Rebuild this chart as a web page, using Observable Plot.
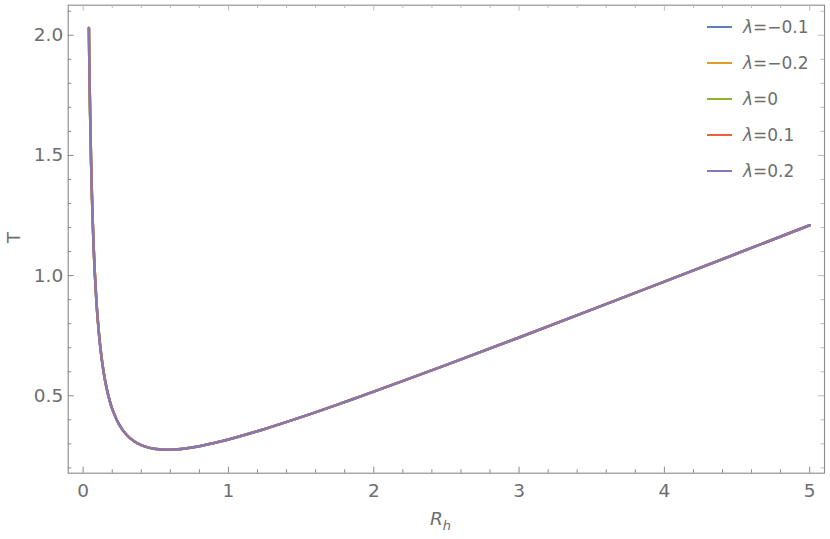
<!DOCTYPE html>
<html>
<head>
<meta charset="utf-8">
<script src="https://cdn.jsdelivr.net/npm/d3@7"></script>
<script src="https://cdn.jsdelivr.net/npm/@observablehq/plot@0.6"></script>
<style>
  html, body { margin: 0; padding: 0; background: #fff; }
  #wrap { position: relative; width: 830px; height: 539px; font-family: "DejaVu Sans", sans-serif; }
  #legend { position: absolute; left: 707px; top: 9px; font-size: 17px; color: #6e6e6e; }
  .item { display: flex; align-items: center; height: 36px; }
  .sw { width: 25px; height: 0; border-top: 2.6px solid; margin-right: 11px; }
  .item i { margin-right: 0px; }
  #ylab { position: absolute; left: 3px; top: 227px; font-size: 18.5px; color: #6e6e6e; transform: rotate(-90deg); transform-origin: center; width: 20px; text-align: center; }
  #xlab { position: absolute; left: 430px; top: 508px; font-size: 18.5px; color: #6e6e6e; font-style: italic; }
  #xlab sub { font-size: 13px; }
</style>
</head>
<body>
<div id="wrap">
  <div id="chart"></div>
  <div id="legend"></div>
  <div id="ylab">T</div>
  <div id="xlab">R<sub>h</sub></div>
</div>
<script>
// Horizon radius values
const rh = [0.0395, 0.042, 0.045, 0.05, 0.055, 0.06, 0.065, 0.07, 0.075, 0.08, 0.09, 0.1, 0.12, 0.14, 0.16, 0.18, 0.2, 0.25, 0.3, 0.35, 0.4, 0.45, 0.5, 0.55, 0.6, 0.65, 0.7, 0.8, 0.9, 1.0, 1.25, 1.5, 1.75, 2, 2.5, 3, 3.5, 4, 4.5, 5];
// Temperature values for each lambda (curves overlap in the chart)
const T_m01 = [2.03, 1.905, 1.779, 1.6035, 1.460, 1.3406, 1.2398, 1.1535, 1.0789, 1.0138, 0.9057, 0.8196, 0.6918, 0.6018, 0.5356, 0.4851, 0.4456, 0.3780, 0.3369, 0.3109, 0.2944, 0.2843, 0.2785, 0.2760, 0.2759, 0.2776, 0.2808, 0.2905, 0.3033, 0.3183, 0.3621, 0.4111, 0.4633, 0.5173, 0.6287, 0.7427, 0.8583, 0.9748, 1.0920, 1.2096];
const T_m02 = [2.03, 1.905, 1.779, 1.6035, 1.460, 1.3406, 1.2398, 1.1535, 1.0789, 1.0138, 0.9057, 0.8196, 0.6918, 0.6018, 0.5356, 0.4851, 0.4456, 0.3780, 0.3369, 0.3109, 0.2944, 0.2843, 0.2785, 0.2760, 0.2759, 0.2776, 0.2808, 0.2905, 0.3033, 0.3183, 0.3621, 0.4111, 0.4633, 0.5173, 0.6287, 0.7427, 0.8583, 0.9748, 1.0920, 1.2096];
const T_0 = [2.03, 1.905, 1.779, 1.6035, 1.460, 1.3406, 1.2398, 1.1535, 1.0789, 1.0138, 0.9057, 0.8196, 0.6918, 0.6018, 0.5356, 0.4851, 0.4456, 0.3780, 0.3369, 0.3109, 0.2944, 0.2843, 0.2785, 0.2760, 0.2759, 0.2776, 0.2808, 0.2905, 0.3033, 0.3183, 0.3621, 0.4111, 0.4633, 0.5173, 0.6287, 0.7427, 0.8583, 0.9748, 1.0920, 1.2096];
const T_p01 = [2.03, 1.905, 1.779, 1.6035, 1.460, 1.3406, 1.2398, 1.1535, 1.0789, 1.0138, 0.9057, 0.8196, 0.6918, 0.6018, 0.5356, 0.4851, 0.4456, 0.3780, 0.3369, 0.3109, 0.2944, 0.2843, 0.2785, 0.2760, 0.2759, 0.2776, 0.2808, 0.2905, 0.3033, 0.3183, 0.3621, 0.4111, 0.4633, 0.5173, 0.6287, 0.7427, 0.8583, 0.9748, 1.0920, 1.2096];
const T_p02 = [2.03, 1.905, 1.779, 1.6035, 1.460, 1.3406, 1.2398, 1.1535, 1.0789, 1.0138, 0.9057, 0.8196, 0.6918, 0.6018, 0.5356, 0.4851, 0.4456, 0.3780, 0.3369, 0.3109, 0.2944, 0.2843, 0.2785, 0.2760, 0.2759, 0.2776, 0.2808, 0.2905, 0.3033, 0.3183, 0.3621, 0.4111, 0.4633, 0.5173, 0.6287, 0.7427, 0.8583, 0.9748, 1.0920, 1.2096];

const lambdaValues = ["−0.1", "−0.2", "0", "0.1", "0.2"];
const seriesNames = lambdaValues.map(v => "λ=" + v);
const seriesValues = [T_m01, T_m02, T_0, T_p01, T_p02];
const colors = ["#5E81B5", "#E19C24", "#8FB032", "#EB6235", "#8778B3"];

const xMajor = [0, 1, 2, 3, 4, 5];
const xMinor = [0.2, 0.4, 0.6, 0.8, 1.2, 1.4, 1.6, 1.8, 2.2, 2.4, 2.6, 2.8, 3.2, 3.4, 3.6, 3.8, 4.2, 4.4, 4.6, 4.8];
const yMajor = [0.5, 1.0, 1.5, 2.0];
const yMinor = [0.2, 0.3, 0.4, 0.6, 0.7, 0.8, 0.9, 1.1, 1.2, 1.3, 1.4, 1.6, 1.7, 1.8, 1.9, 2.1];

const data = [];
seriesNames.forEach((name, i) => {
  rh.forEach((r, j) => data.push({series: name, r, T: seriesValues[i][j]}));
});

const W = 830, H = 539;
const mL = 67.7, mR = 6, mT = 4.7, mB = 66.3;
const pw = W - mL - mR, ph = H - mT - mB;
const gray = "#8a8a8a";
const txt = "#6e6e6e";
const font = "DejaVu Sans, sans-serif";

const chart = Plot.plot({
  width: W, height: H,
  marginLeft: mL, marginRight: mR, marginTop: mT, marginBottom: mB,
  style: {fontFamily: font, fontSize: "18.5px", color: txt, background: "white"},
  x: {domain: [-0.103, 5.102]},
  y: {domain: [0.178, 2.125]},
  color: {domain: seriesNames, range: colors},
  marks: [
    Plot.frame({stroke: gray, strokeWidth: 1.1}),
    // bottom ticks
    Plot.tickX(xMajor, {x: d => d, stroke: gray, insetTop: ph - 6}),
    Plot.tickX(xMinor, {x: d => d, stroke: gray, insetTop: ph - 3.5}),
    // top ticks
    Plot.tickX(xMajor, {x: d => d, stroke: "#bbb", insetBottom: ph - 6}),
    Plot.tickX(xMinor, {x: d => d, stroke: "#bbb", insetBottom: ph - 3.5}),
    // left ticks
    Plot.tickY(yMajor, {y: d => d, stroke: gray, insetRight: pw - 6}),
    Plot.tickY(yMinor, {y: d => d, stroke: gray, insetRight: pw - 3.5}),
    // right ticks
    Plot.tickY(yMajor, {y: d => d, stroke: "#bbb", insetLeft: pw - 6}),
    Plot.tickY(yMinor, {y: d => d, stroke: "#bbb", insetLeft: pw - 3.5}),
    Plot.axisX(xMajor, {tickSize: 0, tickPadding: 10.5, label: null, fontSize: 18.5, fill: txt, tickFormat: d3.format("d")}),
    Plot.axisY(yMajor, {tickSize: 0, tickPadding: 5, label: null, fontSize: 18.5, fill: txt, tickFormat: d3.format(".1f")}),
    Plot.line(data, {x: "r", y: "T", z: "series", stroke: "series", strokeWidth: 2.5, curve: "catmull-rom"})
  ]
});
document.getElementById("chart").appendChild(chart);

const legend = document.getElementById("legend");
lambdaValues.forEach((v, i) => {
  const it = document.createElement("div");
  it.className = "item";
  const sw = document.createElement("span");
  sw.className = "sw";
  sw.style.borderColor = colors[i];
  const lam = document.createElement("i");
  lam.textContent = "λ";
  const tx = document.createElement("span");
  tx.textContent = "=" + v;
  it.appendChild(sw); it.appendChild(lam); it.appendChild(tx);
  legend.appendChild(it);
});
</script>
</body>
</html>
